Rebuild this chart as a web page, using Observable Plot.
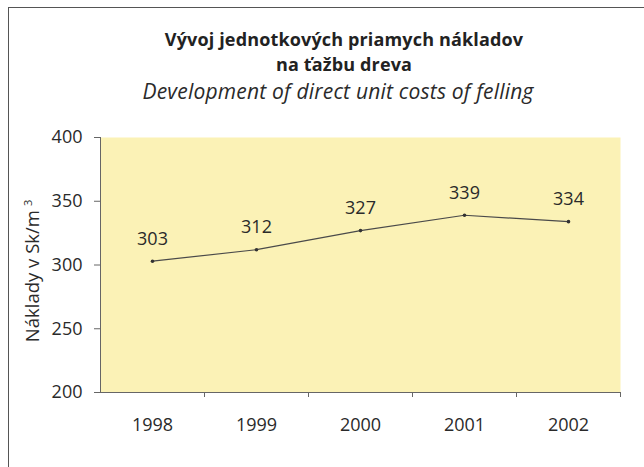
<!DOCTYPE html>
<html>
<head>
<meta charset="utf-8">
<script src="https://cdn.jsdelivr.net/npm/d3@7"></script>
<script src="https://cdn.jsdelivr.net/npm/@observablehq/plot@0.6"></script>
<style>
  html, body { margin: 0; padding: 0; background: #fff; }
  #wrap { position: relative; width: 644px; height: 467px; overflow: hidden; font-family: "Open Sans", sans-serif; color: #222; }
  #frame { position: absolute; left: 8px; top: 7px; width: 700px; height: 500px; border-left: 1.5px solid #555; border-top: 1.5px solid #555; }
  .t { position: absolute; left: 44px; width: 600px; text-align: center; white-space: nowrap; }
  #t1 { top: 30px; font-size: 18px; line-height: 18px; font-weight: 700; letter-spacing: 0.15px; }
  #t2 { top: 55px; font-size: 18px; line-height: 18px; font-weight: 700; letter-spacing: 0.15px; }
  #t3 { top: 81px; left: 38px; font-size: 21px; line-height: 21px; font-style: italic; letter-spacing: 0.2px; color: #2a2a2a; }
  #chart { position: absolute; left: 0; top: 0; }
</style>
</head>
<body>
<div id="wrap">
  <div id="frame"></div>
  <div class="t" id="t1">Vývoj jednotkových priamych nákladov</div>
  <div class="t" id="t2">na ťažbu dreva</div>
  <div class="t" id="t3">Development of direct unit costs of felling</div>
  <div id="chart"></div>
</div>
<script>
const years = [1998, 1999, 2000, 2001, 2002];
const costs = [303, 312, 327, 339, 334];
const yTicks = [200, 250, 300, 350, 400];
const yLabel = "Náklady v Sk/m";
const yLabelSup = "3";

const data = years.map((year, i) => ({year, cost: costs[i]}));
const bounds = years.map(y => y + 0.5);

const chart = Plot.plot({
  width: 644,
  height: 467,
  marginTop: 137,
  marginBottom: 75,
  marginLeft: 100,
  marginRight: 24,
  style: {fontFamily: "'Open Sans', sans-serif", fontSize: "18px", color: "#2a2a2a", background: "transparent", overflow: "visible"},
  x: {domain: [years[0] - 0.5, years[years.length - 1] + 0.5], axis: null},
  y: {domain: [yTicks[0], yTicks[yTicks.length - 1]], axis: null},
  marks: [
    Plot.frame({fill: "#fbf2b6", stroke: null}),
    Plot.axisY({ticks: yTicks, tickSize: 6, tickPadding: 12, tickFormat: d => String(d), label: null, stroke: "#666", fontSize: 18}),
    Plot.axisX({ticks: years, tickSize: 0, tickPadding: 26, tickFormat: d => String(d), label: null, fontSize: 18}),
    Plot.axisX({ticks: bounds, tickSize: 5, tickFormat: () => "", label: null, stroke: "#666"}),
    Plot.ruleX([years[0] - 0.5], {y1: yTicks[0], y2: yTicks[yTicks.length - 1], stroke: "#666"}),
    Plot.ruleY([yTicks[0]], {stroke: "#666"}),
    Plot.line(data, {x: "year", y: "cost", stroke: "#4a4a4a", strokeWidth: 1.2}),
    Plot.dot(data, {x: "year", y: "cost", r: 1.8, fill: "#333", stroke: null}),
    Plot.text(data, {x: "year", y: "cost", text: d => String(d.cost), dy: -22, fontSize: 18, fill: "#2a2a2a"}),
    Plot.text([yLabel], {frameAnchor: "left", textAnchor: "middle", dx: -67, dy: 6, rotate: -90, fontSize: 18.5, fill: "#2a2a2a"})
  ]
});

document.getElementById("chart").appendChild(chart);

d3.select(chart).selectAll("text")
  .filter(function() { return this.textContent === yLabel; })
  .append("tspan")
  .attr("dx", "4")
  .attr("dy", "-0.7em")
  .attr("font-size", "11px")
  .text(yLabelSup);
</script>
</body>
</html>
